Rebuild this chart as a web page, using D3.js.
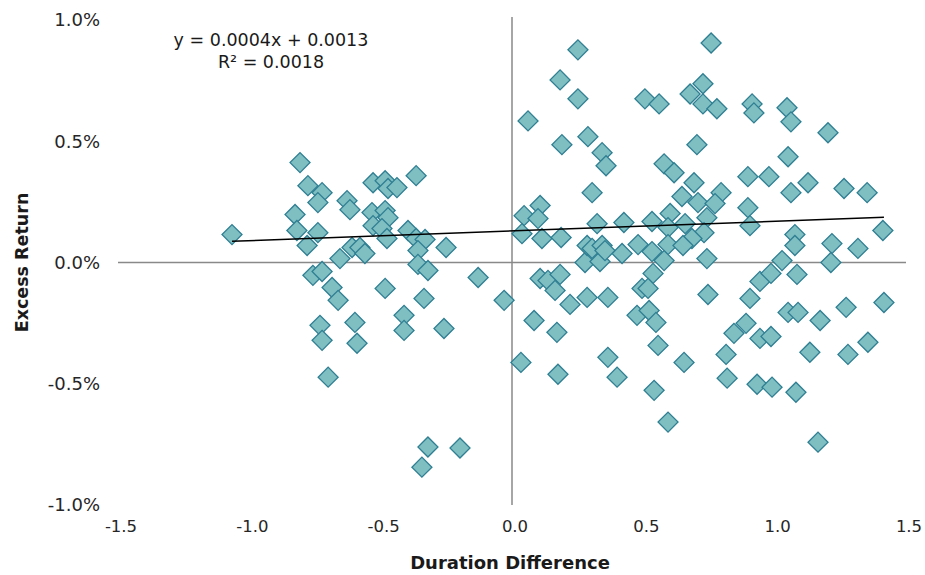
<!DOCTYPE html>
<html>
<head>
<meta charset="utf-8">
<script src="https://cdn.jsdelivr.net/npm/d3@7"></script>
<style>
  html, body { margin: 0; padding: 0; background: #fff; }
  svg { display: block; font-family: "DejaVu Sans", "Liberation Sans", Arial, sans-serif; }
</style>
</head>
<body>
<svg id="chart" width="925" height="575"></svg>
<script>
// Duration difference (x) and excess return (y, decimal)
const durationDiff = [
  -1.066,-0.807,-0.777,-0.723,-0.739,-0.628,-0.617,-0.826,-0.819,-0.780,-0.739,
  -0.529,-0.483,-0.472,-0.438,-0.365,-0.533,-0.483,-0.472,-0.529,-0.495,-0.476,
  -0.609,-0.579,-0.560,-0.655,-0.396,-0.365,-0.331,-0.358,-0.358,-0.320,-0.251,
  -0.758,-0.723,-0.685,-0.662,-0.731,-0.723,-0.598,-0.590,-0.700,-0.483,-0.335,
  -0.411,-0.411,-0.259,-0.129,-0.030,-0.320,-0.343,-0.198,
  0.034,0.084,0.107,0.137,0.183,0.164,0.221,0.171,0.175,0.286,0.365,0.365,0.400,
  0.476,0.278,0.335,0.419,0.495,0.251,0.183,0.251,0.061,0.190,0.289,0.343,0.358,
  0.305,0.506,0.560,0.107,0.046,0.099,0.038,0.114,0.187,0.324,0.426,0.286,0.305,
  0.343,0.354,0.480,0.758,0.678,0.727,0.727,0.780,0.914,0.921,1.047,1.062,1.203,
  0.704,0.579,0.617,0.693,0.898,0.978,1.051,1.062,1.127,1.264,1.352,0.647,0.708,
  0.796,0.773,0.602,0.533,0.742,0.898,0.906,0.594,0.659,0.731,0.685,0.594,0.651,
  0.533,0.579,0.742,1.412,1.077,1.077,1.218,1.317,1.028,1.214,0.537,0.518,0.522,
  0.548,0.556,0.655,0.541,0.594,0.746,0.906,0.944,0.986,1.085,0.891,0.845,0.944,
  0.986,1.051,1.089,1.173,1.272,1.416,0.815,0.819,0.933,0.990,1.081,1.134,1.279,
  1.355,1.165
];
const excessReturn = [
  0.00115,0.00412,0.00317,0.00288,0.00247,0.00255,0.00218,0.00198,0.00132,0.00070,0.00123,
  0.00329,0.00337,0.00305,0.00309,0.00358,0.00206,0.00214,0.00185,0.00152,0.00140,0.00099,
  0.00062,0.00062,0.00037,0.00016,0.00132,0.00099,0.00095,0.00049,-0.00008,-0.00033,0.00062,
  -0.00053,-0.00037,-0.00103,-0.00156,-0.00259,-0.00321,-0.00247,-0.00333,-0.00473,-0.00107,-0.00148,
  -0.00218,-0.00280,-0.00272,-0.00062,-0.00156,-0.00761,-0.00844,-0.00765,
  -0.00412,-0.00239,-0.00066,-0.00074,-0.00049,-0.00115,-0.00173,-0.00288,-0.00461,-0.00144,-0.00144,-0.00391,-0.00473,
  -0.00218,0.00000,0.00004,0.00037,-0.00107,0.00877,0.00753,0.00675,0.00584,0.00486,0.00519,0.00453,0.00399,
  0.00288,0.00675,0.00654,0.00235,0.00193,0.00181,0.00119,0.00099,0.00103,0.00160,0.00165,0.00070,0.00058,
  0.00070,0.00049,0.00074,0.00905,0.00695,0.00737,0.00654,0.00634,0.00654,0.00617,0.00638,0.00580,0.00535,
  0.00486,0.00407,0.00370,0.00329,0.00354,0.00354,0.00436,0.00288,0.00329,0.00305,0.00288,0.00272,0.00247,
  0.00288,0.00243,0.00202,0.00169,0.00185,0.00226,0.00152,0.00144,0.00160,0.00123,0.00099,0.00074,0.00070,
  0.00045,0.00008,0.00016,0.00132,0.00115,0.00070,0.00078,0.00058,0.00008,0.00000,-0.00045,-0.00107,-0.00198,
  -0.00247,-0.00342,-0.00412,-0.00527,-0.00658,-0.00132,-0.00148,-0.00078,-0.00045,-0.00049,-0.00251,-0.00292,-0.00313,
  -0.00305,-0.00206,-0.00206,-0.00239,-0.00185,-0.00165,-0.00379,-0.00477,-0.00502,-0.00514,-0.00535,-0.00370,-0.00379,
  -0.00329,-0.00741
];

// Trendline coefficients (as displayed on the chart)
const trendSlope = 0.0004;
const trendIntercept = 0.0013;
const trendLabels = ["y = 0.0004x + 0.0013", "R\u00B2 = 0.0018"];

const xTicks = [-1.5, -1.0, -0.5, 0.0, 0.5, 1.0, 1.5];
const yTicks = [-0.01, -0.005, 0, 0.005, 0.01];
const xTitle = "Duration Difference";
const yTitle = "Excess Return";

const svg = d3.select("#chart");
const plotL = 118, plotR = 906, plotT = 20, plotB = 505;

const x = d3.scaleLinear().domain([-1.5, 1.5]).range([plotL, plotR]);
const y = d3.scaleLinear().domain([-0.01, 0.01]).range([plotB, plotT]);

const points = durationDiff.map((d, i) => ({ x: d, y: excessReturn[i] }));
const hyphen = s => s.replace("\u2212", "-");

// Axis lines crossing at origin
svg.append("line")
  .attr("x1", x(-1.5)).attr("x2", x(1.5))
  .attr("y1", y(0)).attr("y2", y(0))
  .attr("stroke", "#898989").attr("stroke-width", 1.5);
svg.append("line")
  .attr("x1", x(0)).attr("x2", x(0))
  .attr("y1", plotT - 3).attr("y2", plotB)
  .attr("stroke", "#898989").attr("stroke-width", 1.5);

// Y tick labels
const fmtY = d3.format(".1%");
svg.append("g").selectAll("text").data(yTicks).join("text")
  .attr("x", 100).attr("y", d => y(d))
  .attr("dy", "0.35em")
  .attr("text-anchor", "end")
  .attr("font-size", 18)
  .attr("fill", "#262626")
  .text(d => hyphen(fmtY(d)));

// X tick labels
const fmtX = d3.format(".1f");
svg.append("g").selectAll("text").data(xTicks).join("text")
  .attr("x", d => x(d) + 3).attr("y", 526)
  .attr("dy", "0.35em")
  .attr("text-anchor", "middle")
  .attr("font-size", 16.5)
  .attr("fill", "#262626")
  .text(d => hyphen(fmtX(d)));

// Axis titles
svg.append("text")
  .attr("x", 510).attr("y", 563)
  .attr("dy", "0.35em")
  .attr("text-anchor", "middle")
  .attr("font-size", 18).attr("font-weight", "bold")
  .attr("fill", "#1a1a1a")
  .text(xTitle);
svg.append("text")
  .attr("transform", `translate(22,${y(0)}) rotate(-90)`)
  .attr("dy", "0.35em")
  .attr("text-anchor", "middle")
  .attr("font-size", 17.5).attr("font-weight", "bold")
  .attr("fill", "#1a1a1a")
  .text(yTitle);

// Points (diamonds)
const diamond = d3.symbol().type(d3.symbolSquare).size(200);
svg.append("g").selectAll("path").data(points).join("path")
  .attr("d", diamond)
  .attr("transform", d => `translate(${x(d.x)},${y(d.y)}) rotate(45)`)
  .attr("fill", "#7fbec1")
  .attr("stroke", "#2f7f93")
  .attr("stroke-width", 1.3);

// Trendline
const xExt = d3.extent(durationDiff);
svg.append("line")
  .attr("x1", x(xExt[0])).attr("y1", y(trendSlope * xExt[0] + trendIntercept))
  .attr("x2", x(xExt[1])).attr("y2", y(trendSlope * xExt[1] + trendIntercept))
  .attr("stroke", "#000").attr("stroke-width", 1.5);

// Trend equation labels
svg.append("g").selectAll("text").data(trendLabels).join("text")
  .attr("x", 271).attr("y", (d, i) => 40 + i * 22)
  .attr("dy", "0.35em")
  .attr("text-anchor", "middle")
  .attr("font-size", 17.5)
  .attr("fill", "#1a1a1a")
  .text(d => d);
</script>
</body>
</html>
